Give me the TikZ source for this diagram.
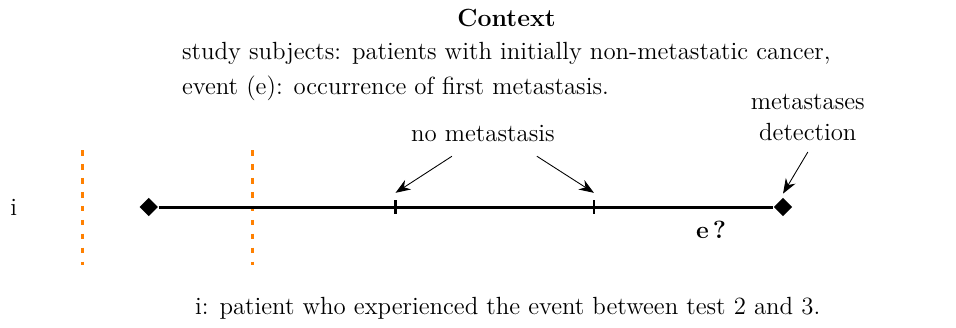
\documentclass[tikz,border=0pt]{standalone}
\usepackage{tikz}
\usetikzlibrary{arrows.meta, positioning, shapes.geometric}

\tikzset{
    endpt/.style={diamond, fill=black, inner sep=0pt, minimum size=0.30cm},
    testline/.style={orange, line width=1.4pt, dash pattern=on 2.6pt off 3.8pt},
    pointer/.style={-{Stealth[length=2.4mm]}, thin}
}

\begin{document}
\begin{tikzpicture}[font=\fontsize{11.4}{14.4}\selectfont]
    \useasboundingbox (-2.40,-1.94) rectangle (13.02,3.34);

    % Context text
    \node (ctx) at (5.77,3.05) {\textbf{Context}};
    \node[anchor=west, align=left, inner sep=0pt, font=\fontsize{11.4}{16}\selectfont] (desc) at (0.53,2.19)
        {study subjects: patients with initially non-metastatic cancer,\\
         event (e): occurrence of first metastasis.};

    % Test dates (dotted)
    \foreach \xx/\name in {-1.065/testA, 1.68/testB} {
        \coordinate (\name top) at (\xx,0.92);
        \coordinate (\name bot) at (\xx,-0.935);
        \draw[testline] (\name top) -- (\name bot);
    }

    % Patient timeline
    \node (pat) at (-2.18,0) {i};
    \node[endpt] (start) at (0,0) {};
    \node[endpt] (stop) at (10.23,0) {};
    \draw[line width=1.4pt] (start) -- (stop);

    % Follow-up visits
    \foreach \xx/\name in {3.98/visA, 7.18/visB} {
        \coordinate (\name) at (\xx,0);
        \draw[line width=1.1pt] ([yshift=-0.11cm]\name) -- ([yshift=0.11cm]\name);
    }

    % Labels
    \node (nometa) at (5.39,1.19) {no metastasis};
    \node[align=center] (detect) at (10.63,1.44) {metastases\\detection};
    \node (evt) at (9.07,-0.37) {\textbf{e\,?}};

    \draw[pointer] (4.89,0.82) -- ([yshift=0.23cm]visA);
    \draw[pointer] (6.26,0.82) -- ([yshift=0.23cm]visB);
    \draw[pointer] (detect.south) ++(0,-0.05) -- ([yshift=0.06cm]stop.north);

    % Caption
    \node (cap) at (5.79,-1.63) {i: patient who experienced the event between test 2 and 3.};
\end{tikzpicture}
\end{document}
